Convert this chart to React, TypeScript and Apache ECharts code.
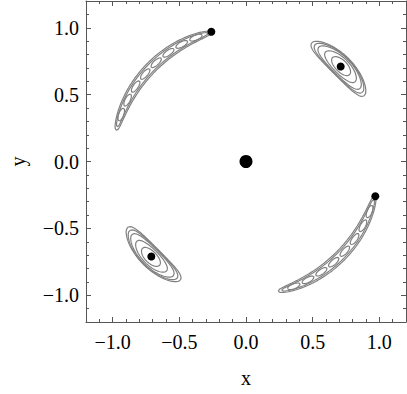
import React, { useEffect, useRef } from "react";
import * as echarts from "echarts";

// Critical points (dots)
const centerDotX = [0];
const centerDotY = [0];
const dotX = [-0.26, 0.71, 0.97, -0.71];
const dotY = [0.97, 0.71, -0.26, -0.71];

// Long crescent-shaped contour bands (angles in degrees on the unit circle)
const crescentMidAngle = [135.75, -45.5];
const crescentHalfSpan = [30.75, 30.5];
const crescentRadius = [1.0, 1.0];
const crescentHalfWidth = [0.042, 0.042];
const crescentOvalCount = [8, 8];

// Compact banana-shaped contour blobs
const blobMidAngle = [45, 225];
const blobHalfSpan = [16, 16];
const blobRadius = [1.01, 1.01];
const blobHalfWidth = [0.078, 0.078];
const blobLevels = [1, 0.9, 0.78, 0.56, 0.32];

// Axis ticks
const majorTicks = [-1.0, -0.5, 0.0, 0.5, 1.0];

type Pt = [number, number];

function arcLoop(mid: number, halfSpan: number, R: number, halfW: number, power: number, n = 90): Pt[] {
  const outer: Pt[] = [];
  const inner: Pt[] = [];
  for (let i = 0; i <= n; i++) {
    const t = -1 + (2 * i) / n;
    const a = ((mid + halfSpan * t) * Math.PI) / 180;
    const hw = halfW * Math.pow(Math.max(0, 1 - t * t), power);
    outer.push([(R + hw) * Math.cos(a), (R + hw) * Math.sin(a)]);
    inner.push([(R - hw) * Math.cos(a), (R - hw) * Math.sin(a)]);
  }
  const pts = outer.concat(inner.reverse());
  pts.push(pts[0]);
  return pts;
}

function buildContours(): Pt[][] {
  const loops: Pt[][] = [];
  crescentMidAngle.forEach((mid, k) => {
    const hs = crescentHalfSpan[k];
    const R = crescentRadius[k];
    const hw = crescentHalfWidth[k];
    loops.push(arcLoop(mid, hs, R, hw, 0.4));
    loops.push(arcLoop(mid, hs * 0.95, R, hw * 0.72, 0.4));
    const m = crescentOvalCount[k];
    const seg = (2 * hs * 0.88) / m;
    for (let j = 0; j < m; j++) {
      const c = mid - hs * 0.88 + seg * (j + 0.5);
      loops.push(arcLoop(c, seg * 0.42, R, hw * 0.45, 0.5, 30));
    }
  });
  blobMidAngle.forEach((mid, k) => {
    blobLevels.forEach((s) => {
      loops.push(arcLoop(mid, blobHalfSpan[k] * s, blobRadius[k], blobHalfWidth[k] * Math.sqrt(s), 0.5));
    });
  });
  return loops;
}

const fmt = (v: number) => {
  const s = Math.abs(v).toFixed(1);
  return v < -1e-9 ? "\u2212" + s : s;
};

const frameColor = "#555555";
const font = "'Liberation Serif', 'Times New Roman', serif";

function makeAxes(dim: "x" | "y") {
  const first = dim === "x" ? "bottom" : "left";
  const second = dim === "x" ? "top" : "right";
  const base = { type: "value", min: -1.2, max: 1.2, splitLine: { show: false } };
  return [
    {
      ...base,
      position: first,
      interval: 0.1,
      axisLine: { show: true, onZero: false, lineStyle: { color: frameColor, width: 1 } },
      axisTick: { show: true, inside: true, length: 3, lineStyle: { color: frameColor } },
      axisLabel: {
        show: true,
        customValues: majorTicks,
        formatter: fmt,
        fontFamily: font,
        fontSize: 20,
        color: "#000",
        margin: dim === "x" ? 10 : 7,
      },
      name: dim,
      nameLocation: "middle",
      nameGap: dim === "x" ? 46 : 58,
      nameTextStyle: { fontFamily: font, fontSize: 20, color: "#000" },
    },
    {
      ...base,
      position: first,
      axisLine: { show: false, onZero: false },
      axisTick: { show: true, inside: true, length: 5, customValues: majorTicks, lineStyle: { color: frameColor } },
      axisLabel: { show: false },
    },
    {
      ...base,
      position: second,
      interval: 0.1,
      axisLine: { show: true, onZero: false, lineStyle: { color: frameColor, width: 1 } },
      axisTick: { show: true, inside: true, length: 3, lineStyle: { color: frameColor } },
      axisLabel: { show: false },
    },
    {
      ...base,
      position: second,
      axisLine: { show: false, onZero: false },
      axisTick: { show: true, inside: true, length: 5, customValues: majorTicks, lineStyle: { color: frameColor } },
      axisLabel: { show: false },
    },
  ];
}

export default function App() {
  const ref = useRef<HTMLDivElement>(null);
  useEffect(() => {
    if (!ref.current) return;
    const chart = echarts.init(ref.current, null, { renderer: "svg" });
    const contourSeries = buildContours().map((pts) => ({
      type: "line",
      data: pts,
      showSymbol: false,
      symbol: "none",
      silent: true,
      lineStyle: { color: "#808080", width: 1.2 },
      z: 2,
    }));
    chart.setOption({
      animation: false,
      grid: { left: 84, right: 1, top: 1, bottom: 72, containLabel: false },
      xAxis: makeAxes("x"),
      yAxis: makeAxes("y"),
      series: [
        ...contourSeries,
        {
          type: "scatter",
          data: centerDotX.map((x, i) => [x, centerDotY[i]]),
          symbolSize: 13,
          itemStyle: { color: "#000", opacity: 1 },
          z: 5,
        },
        {
          type: "scatter",
          data: dotX.map((x, i) => [x, dotY[i]]),
          symbolSize: 8,
          itemStyle: { color: "#000", opacity: 1 },
          z: 5,
        },
      ],
    });
    return () => chart.dispose();
  }, []);
  return <div ref={ref} style={{ position: "fixed", left: 0, top: 0, width: 407, height: 394, background: "#fff" }} />;
}
